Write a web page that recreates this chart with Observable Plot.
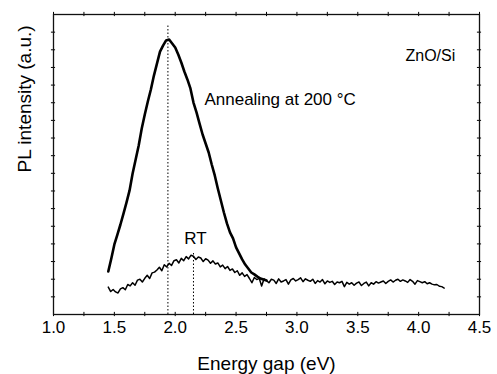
<!DOCTYPE html>
<html>
<head>
<meta charset="utf-8">
<script src="https://cdn.jsdelivr.net/npm/d3@7"></script>
<script src="https://cdn.jsdelivr.net/npm/@observablehq/plot@0.6"></script>
<style>
  html, body { margin: 0; padding: 0; background: #fff; }
  #chart { width: 497px; height: 374px; }
</style>
</head>
<body>
<div id="chart"></div>
<script>
// ---- Data ----
// RT spectrum: energies from 1.45 eV in steps of 0.02 eV
const rtStart = 1.45;
const rtStep = 0.02;
const rtValues = [
  1.55, 1.30, 1.42, 1.28, 1.22, 1.45, 1.52, 1.40, 1.70, 1.62,
  1.80, 1.66, 1.95, 2.00, 1.84, 2.05, 2.22, 2.04, 2.36, 2.40,
  2.52, 2.68, 2.48, 2.82, 2.70, 2.90, 2.78, 3.05, 3.10, 2.92,
  3.18, 3.05, 3.28, 3.15, 3.36, 3.30, 3.12, 3.26, 3.20, 3.00,
  3.16, 3.08, 2.90, 3.04, 2.86, 2.92, 2.70, 2.80, 2.60, 2.72,
  2.50, 2.58, 2.38, 2.48, 2.22, 2.36, 2.16, 2.26, 2.04, 1.80,
  2.10, 1.98, 2.05, 1.62, 2.02, 1.92, 1.80, 2.00, 1.95, 1.76,
  2.02, 1.84, 1.90, 1.98, 1.72, 1.96, 2.04, 1.90, 1.98, 2.08,
  1.86, 2.02, 1.94, 1.88, 2.00, 1.76, 1.92, 1.84, 1.98, 1.74,
  1.90, 1.82, 1.88, 1.70, 1.84, 1.80, 1.88, 1.58, 1.82, 1.72,
  1.80, 1.66, 1.78, 1.84, 1.64, 1.76, 1.84, 1.62, 1.80, 1.72,
  1.86, 1.78, 1.84, 1.90, 1.76, 1.88, 1.96, 1.84, 1.94, 2.00,
  1.88, 1.96, 1.90, 1.82, 1.98, 1.88, 1.72, 1.92, 1.86, 1.80,
  1.86, 1.74, 1.80, 1.72, 1.68, 1.70, 1.60, 1.58, 1.50
];
// Annealed (200 °C) spectrum: energies from 1.45 eV in steps of 0.025 eV
const annStart = 1.45;
const annStep = 0.025;
const annValues = [
  2.44, 3.17, 3.97, 4.53, 5.10, 5.72, 6.35, 7.03, 7.99, 8.78,
  9.58, 10.54, 11.33, 12.07, 12.75, 13.54, 14.22, 14.90, 15.24, 15.53,
  15.58, 15.36, 15.13, 14.73, 14.28, 13.77, 13.32, 12.81, 12.01, 11.45,
  10.82, 10.20, 9.69, 9.18, 8.50, 7.88, 7.14, 6.46, 5.78, 5.16,
  4.65, 4.31, 3.80, 3.46, 3.12, 2.83, 2.61, 2.38, 2.27, 2.15,
  2.04, 1.98, 1.93
];
// Peak markers (dotted lines)
const peakX = [1.94, 2.15];
const peakTop = [16.4, 3.46];
// Tick values
const xMajorTicks = [1.0, 1.5, 2.0, 2.5, 3.0, 3.5, 4.0, 4.5];
const xMinorTicks = [1.25, 1.75, 2.25, 2.75, 3.25, 3.75, 4.25];
const yTicks = [1, 2, 3, 4, 5, 6, 7, 8, 9, 10, 11, 12, 13, 14, 15, 16];
// Annotations
const annealLabel = {t: "Annealing at 200 °C", x: 2.24, y: 11.9};
const sampleLabel = {t: "ZnO/Si", x: 3.892, y: 14.39};
const rtLabel = {t: "RT", x: 2.167, y: 3.97};

// ---- Build tables ----
const rt = rtValues.map((v, i) => ({x: rtStart + i * rtStep, y: v}));
const ann = annValues.map((v, i) => ({x: annStart + i * annStep, y: v}));
const peaks = peakX.map((x, i) => ({x, top: peakTop[i]}));

const yMax = 17;
const tx = 0.12;   // half tick length in y units (~2px)
const ty = 0.017;  // half tick length in x units (~2px)

const chart = Plot.plot({
  width: 497,
  height: 374,
  marginLeft: 53,
  marginRight: 18,
  marginTop: 14,
  marginBottom: 60,
  x: {domain: [1, 4.5], axis: null},
  y: {domain: [0, yMax], axis: null},
  style: {fontFamily: "'Liberation Sans', Arial, sans-serif", fontSize: "17px", color: "#000", background: "#fff"},
  marks: [
    Plot.axisX(xMajorTicks, {anchor: "bottom", tickSize: 0, tickPadding: 6, tickFormat: d => d.toFixed(1), fontSize: 17, label: null}),
    // ticks on all four sides
    Plot.ruleX(xMajorTicks.concat(xMinorTicks), {x: d => d, y1: -tx, y2: tx, stroke: "#000", strokeWidth: 1}),
    Plot.ruleX(xMajorTicks.concat(xMinorTicks), {x: d => d, y1: yMax - tx, y2: yMax + tx, stroke: "#000", strokeWidth: 1}),
    Plot.ruleY(yTicks, {y: d => d, x1: 1 - ty, x2: 1 + ty, stroke: "#000", strokeWidth: 1}),
    Plot.ruleY(yTicks, {y: d => d, x1: 4.5 - ty, x2: 4.5 + ty, stroke: "#000", strokeWidth: 1}),
    Plot.frame({stroke: "#111", strokeWidth: 1.3}),
    // dotted peak markers
    Plot.ruleX(peaks, {x: "x", y1: 0, y2: "top", stroke: "#000", strokeWidth: 1, strokeDasharray: "1.5,2"}),
    // spectra
    Plot.line(rt, {x: "x", y: "y", stroke: "#000", strokeWidth: 1.5}),
    Plot.line(ann, {x: "x", y: "y", stroke: "#000", strokeWidth: 2.6}),
    // annotations
    Plot.text([annealLabel], {x: "x", y: "y", text: "t", textAnchor: "start", lineAnchor: "bottom", fontSize: 17, fill: "#000"}),
    Plot.text([sampleLabel], {x: "x", y: "y", text: "t", textAnchor: "start", lineAnchor: "bottom", fontSize: 16, fill: "#000"}),
    Plot.text([rtLabel], {x: "x", y: "y", text: "t", textAnchor: "middle", lineAnchor: "bottom", fontSize: 17, fill: "#000"}),
    // axis titles
    Plot.text(["Energy gap (eV)"], {frameAnchor: "bottom", dy: 55, lineAnchor: "bottom", fontSize: 19, fill: "#000"}),
    Plot.text(["PL intensity (a.u.)"], {frameAnchor: "left", dx: -23, dy: 8, rotate: -90, lineAnchor: "bottom", fontSize: 19, fill: "#000"})
  ]
});
document.getElementById("chart").appendChild(chart);
</script>
</body>
</html>
